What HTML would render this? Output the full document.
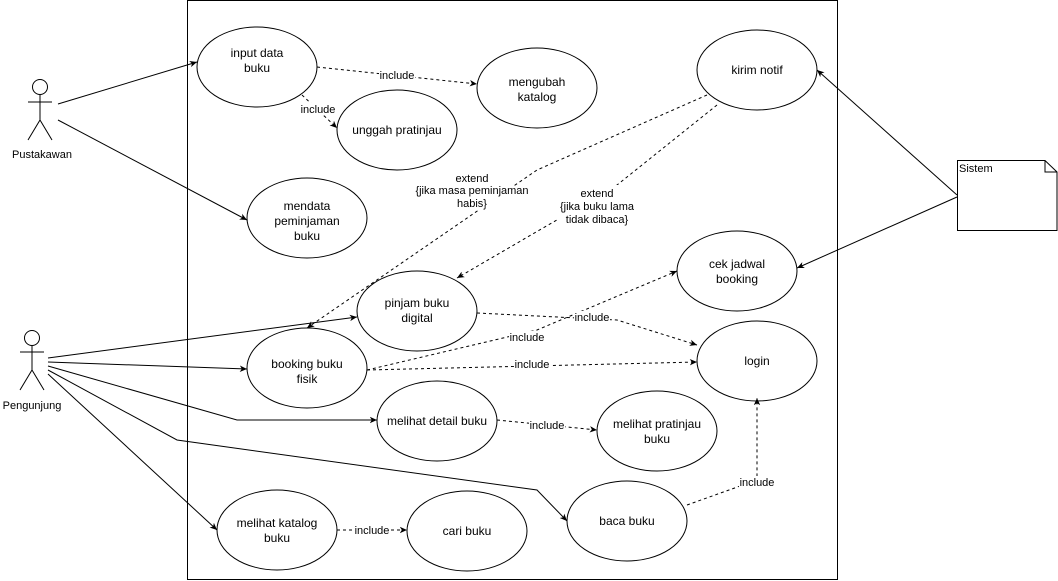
<!DOCTYPE html>
<html><head><meta charset="utf-8"><style>
html,body{margin:0;padding:0;background:#fff;}
svg{display:block;font-family:"Liberation Sans",Helvetica,Arial,sans-serif;}
text{font-size:12px;fill:#000;}
.l{font-size:11px;}
</style></head><body>
<svg width="1058" height="581" viewBox="0 0 1058 581" xmlns="http://www.w3.org/2000/svg">
<defs>
<marker id="a" viewBox="0 0 10 10" refX="9" refY="5" markerWidth="8" markerHeight="8" orient="auto-start-reverse"><path d="M0,1 L9,5 L0,9 L2.5,5 Z" fill="#000"/></marker>
<marker id="o" viewBox="0 0 10 10" refX="9" refY="5" markerWidth="9" markerHeight="9" orient="auto"><path d="M0,1 L9,5 L0,9" fill="none" stroke="#000"/></marker>
</defs>
<rect x="187.5" y="0.5" width="650" height="579" fill="#fff" stroke="#000"/>
<g fill="#fff" stroke="#000">
<ellipse cx="257" cy="67" rx="60" ry="40"/>
<ellipse cx="537" cy="88" rx="60" ry="40"/>
<ellipse cx="397" cy="130" rx="60" ry="40"/>
<ellipse cx="757" cy="70" rx="60" ry="40"/>
<ellipse cx="307" cy="218" rx="60" ry="40"/>
<ellipse cx="737" cy="271" rx="60" ry="40"/>
<ellipse cx="417" cy="311" rx="60" ry="40"/>
<ellipse cx="757" cy="361" rx="60" ry="40"/>
<ellipse cx="307" cy="368" rx="60" ry="40"/>
<ellipse cx="437" cy="421" rx="60" ry="40"/>
<ellipse cx="657" cy="431" rx="60" ry="40"/>
<ellipse cx="627" cy="521" rx="60" ry="40"/>
<ellipse cx="277" cy="530" rx="60" ry="40"/>
<ellipse cx="467" cy="531" rx="60" ry="40"/>
</g>
<g text-anchor="middle">
<text x="257" y="57">input data</text><text x="257" y="72">buku</text>
<text x="537" y="86">mengubah</text><text x="537" y="101">katalog</text>
<text x="397" y="134">unggah pratinjau</text>
<text x="757" y="74">kirim notif</text>
<text x="307" y="210">mendata</text><text x="307" y="225">peminjaman</text><text x="307" y="240">buku</text>
<text x="737" y="268">cek jadwal</text><text x="737" y="283">booking</text>
<text x="417" y="307">pinjam buku</text><text x="417" y="322">digital</text>
<text x="757" y="365">login</text>
<text x="307" y="368">booking buku</text><text x="307" y="383">fisik</text>
<text x="437" y="425">melihat detail buku</text>
<text x="657" y="428">melihat pratinjau</text><text x="657" y="443">buku</text>
<text x="627" y="525">baca buku</text>
<text x="277" y="527">melihat katalog</text><text x="277" y="542">buku</text>
<text x="467" y="535">cari buku</text>
</g>
<!-- actors -->
<g stroke="#000" fill="#fff">
<circle cx="40" cy="87" r="7.5"/><path d="M40,95 V120 M28,102 H52 M40,120 L28,140 M40,120 L52,140" fill="none"/>
<circle cx="32" cy="338" r="7.5"/><path d="M32,346 V370 M20,352 H44 M32,370 L20,390 M32,370 L44,390" fill="none"/>
<path d="M957.5,160.5 H1045 L1057,172 V230.5 H957.5 Z"/><path d="M1045,160.5 V172 H1057" fill="none"/>
</g>
<text x="42" y="158" text-anchor="middle" class="l">Pustakawan</text>
<text x="32" y="409" text-anchor="middle" class="l">Pengunjung</text>
<text x="959" y="172" class="l">Sistem</text>
<!-- solid associations -->
<g stroke="#000" fill="none" marker-end="url(#a)">
<path d="M58,104 L197,62"/>
<path d="M58,120 L247,220"/>
<path d="M48,358 L357,317"/>
<path d="M48,362 L247,369"/>
<path d="M48,366 L237,420 H377"/>
<path d="M48,370 L177,440 L537,490 L567,521"/>
<path d="M48,374 L217,530"/>
<path d="M957,195 L817,70"/>
<path d="M957,197 L797,268"/>
</g>
<!-- dashed -->
<g stroke="#000" fill="none" stroke-dasharray="3 3" marker-end="url(#a)">
<path d="M317,67 L477,84"/>
<path d="M302,95 L337,128"/>
<path d="M707,95 L537,170 L307,328"/>
<path d="M717,105 L617,185 L457,278"/>
<path d="M477,313 L617,320 L697,345"/>
<path d="M367,370 L537,330 L677,271"/>
<path d="M367,370 L697,362"/>
<path d="M497,420 L597,430"/>
<path d="M687,505 L757,480 L757,398"/>
<path d="M337,530 L407,530"/>
</g>
<g text-anchor="middle" class="l">
<rect x="379" y="69" width="36" height="12" fill="#fff"/><text x="397" y="79" class="l">include</text>
<rect x="300" y="103" width="36" height="12" fill="#fff"/><text x="318" y="113" class="l">include</text>
<rect x="432" y="170" width="82" height="40" fill="#fff"/>
<text x="472" y="182" class="l">extend</text><text x="472" y="194" class="l">{jika masa peminjaman</text><text x="472" y="207" class="l">habis}</text>
<rect x="558" y="185" width="78" height="42" fill="#fff"/>
<text x="597" y="197" class="l">extend</text><text x="597" y="210" class="l">{jika buku lama</text><text x="597" y="223" class="l">tidak dibaca}</text>
<rect x="574" y="311" width="36" height="12" fill="#fff"/><text x="592" y="321" class="l">include</text>
<rect x="509" y="331" width="36" height="12" fill="#fff"/><text x="527" y="341" class="l">include</text>
<rect x="514" y="358" width="36" height="12" fill="#fff"/><text x="532" y="368" class="l">include</text>
<rect x="529" y="419" width="36" height="12" fill="#fff"/><text x="547" y="429" class="l">include</text>
<rect x="739" y="476" width="36" height="12" fill="#fff"/><text x="757" y="486" class="l">include</text>
<rect x="354" y="524" width="36" height="12" fill="#fff"/><text x="372" y="534" class="l">include</text>
</g>
</svg>
</body></html>
